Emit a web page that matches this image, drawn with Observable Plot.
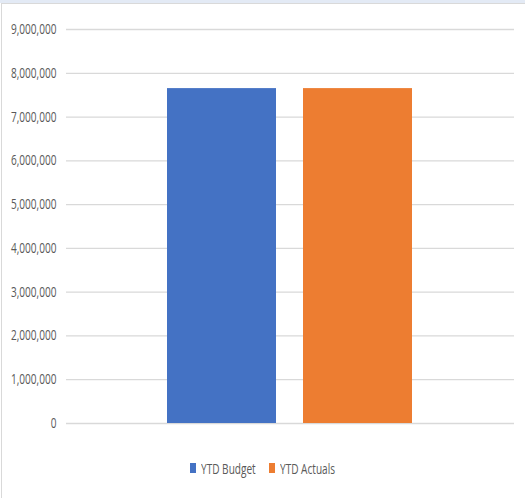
<!DOCTYPE html>
<html>
<head>
<meta charset="utf-8">
<script src="https://cdn.jsdelivr.net/npm/d3@7"></script>
<script src="https://cdn.jsdelivr.net/npm/@observablehq/plot@0.6"></script>
<style>
  html, body { margin: 0; padding: 0; background: #fff; }
  #wrap { position: relative; width: 525px; height: 499px; overflow: hidden; background: #fff;
          font-family: "Open Sans", sans-serif; }
  #topband { position: absolute; left: 0; top: 0; width: 525px; height: 3px; background: #e3eaf5; }
  #frame { position: absolute; left: 1px; top: 3px; width: 524px; height: 494px;
           border-top: 1px solid #d9d9d9; border-left: 1px solid #d9d9d9; }
  #chart { position: absolute; left: 0; top: 0; }
  #legend { position: absolute; left: 0; top: 459px; width: 525px; height: 18px;
            display: flex; justify-content: center; align-items: center; color: #595959; font-size: 14px; }
  .item { display: flex; align-items: center; margin: 0 7px; white-space: nowrap; }
  .sw { width: 6px; height: 10px; margin-right: 5px; flex: none; }
  .lt { display: inline-block; transform-origin: 0 50%; }
</style>
</head>
<body>
<div id="wrap">
  <div id="topband"></div>
  <div id="frame"></div>
  <div id="chart"></div>
  <div id="legend"></div>
</div>
<script>
const series = ["YTD Budget", "YTD Actuals"];
const values = [7650000, 7650000];
const colors = ["#4472C4", "#ED7D31"];
const yTicks = [0, 1000000, 2000000, 3000000, 4000000, 5000000, 6000000, 7000000, 8000000, 9000000];

const SQUEEZE = 0.72;
const data = series.map((s, i) => ({series: s, value: values[i]}));

const chart = Plot.plot({
  width: 525,
  height: 440,
  marginLeft: 66,
  marginRight: 11,
  marginTop: 29,
  marginBottom: 17,
  style: {background: "transparent", fontFamily: "'Open Sans', sans-serif", fontSize: "14px", color: "#595959"},
  x: {domain: series, paddingInner: 0.197, paddingOuter: 0.737, axis: null},
  y: {domain: [0, 9000000]},
  color: {domain: series, range: colors},
  marks: [
    Plot.ruleY(yTicks, {stroke: "#d9d9d9", strokeWidth: 1.3}),
    Plot.barY(data, {x: "series", y: "value", fill: "series"}),
    Plot.axisY({ticks: yTicks, tickSize: 0, tickPadding: 10, tickFormat: d3.format(","), label: null, fill: "#595959"})
  ]
});
document.getElementById("chart").appendChild(chart);

// condense the tick labels to mimic a narrow font
chart.querySelectorAll("g[aria-label='y-axis tick label'] text").forEach(t => {
  const w = t.getComputedTextLength();
  t.setAttribute("textLength", (w * SQUEEZE).toFixed(2));
  t.setAttribute("lengthAdjust", "spacingAndGlyphs");
});

const legend = document.getElementById("legend");
series.forEach((s, i) => {
  const item = document.createElement("div");
  item.className = "item";
  const sw = document.createElement("span");
  sw.className = "sw";
  sw.style.background = colors[i];
  const t = document.createElement("span");
  t.className = "lt";
  t.textContent = s;
  item.appendChild(sw);
  item.appendChild(t);
  legend.appendChild(item);
  const w = t.getBoundingClientRect().width;
  t.style.transform = `scaleX(${SQUEEZE})`;
  t.style.marginRight = `${-(1 - SQUEEZE) * w}px`;
});
</script>
</body>
</html>
